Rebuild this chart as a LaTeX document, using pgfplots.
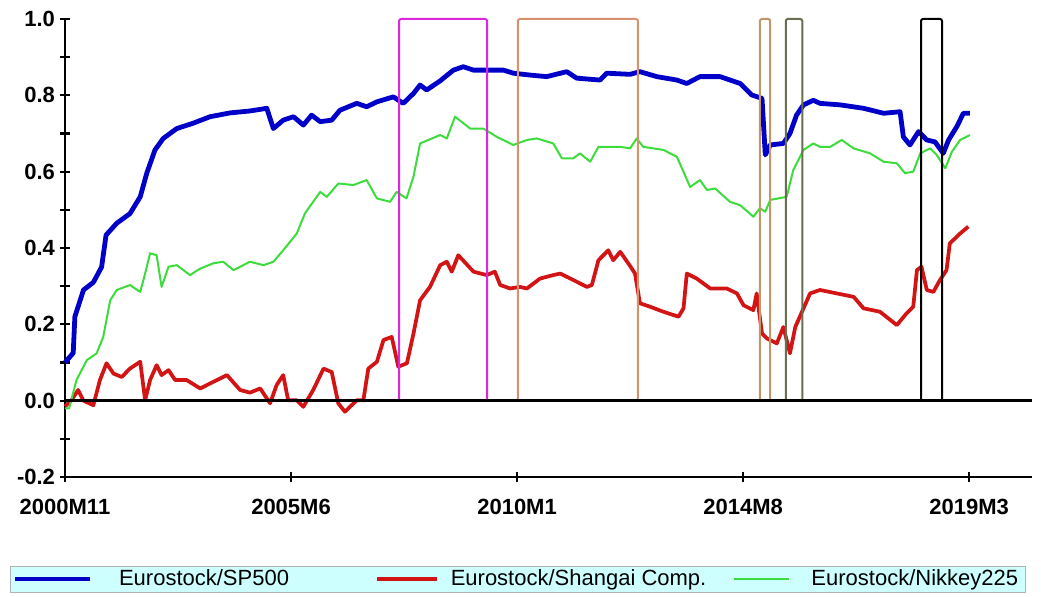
\documentclass[border=0pt]{standalone}
\usepackage{pgfplots}
\pgfplotsset{compat=1.18}
\usepackage{fontspec}
\setmainfont{Liberation Sans}

\definecolor{serblue}{RGB}{0,0,200}
\definecolor{serred}{RGB}{210,20,20}
\definecolor{sergreen}{RGB}{60,220,60}
\definecolor{regmag}{RGB}{220,40,220}
\definecolor{regtan}{RGB}{215,145,110}
\definecolor{regtanb}{RGB}{195,150,105}
\definecolor{regolive}{RGB}{105,110,80}
\definecolor{legcyan}{RGB}{205,255,255}

\pgfplotsset{leglen/.style={legend image code/.code={\draw[##1] (0pt,0pt) -- (#1,0pt);}}}

\begin{document}
\begin{tikzpicture}
\path[use as bounding box] (0,0) rectangle (780.75pt,447pt);
\begin{axis}[
    at={(48.75pt,89.25pt)}, anchor=south west,
    scale only axis,
    width=725.25pt, height=343.5pt,
    xmin=0, xmax=235.3,
    ymin=-0.2, ymax=1.0,
    clip=false,
    axis lines=left,
    axis line style={-, line width=2pt},
    tick align=center,
    major tick length=8pt,
    minor tick length=7pt,
    tick style={line width=1.6pt, black},
    xtick={0,55,110,165,220},
    xticklabels={2000M11,2005M6,2010M1,2014M8,2019M3},
    ytick={-0.2,0,0.2,0.4,0.6,0.8,1.0},
    minor ytick={-0.1,0.1,0.3,0.5,0.7,0.9},
    /pgf/number format/assume math mode=true,
    yticklabel style={/pgf/number format/.cd, fixed, fixed zerofill, precision=1},
    ticklabel style={font=\fontsize{16.5}{18}\selectfont\bfseries},
    xticklabel style={yshift=-9pt},
    legend columns=3,
    legend style={
        at={(-0.0569,-0.2227)}, anchor=west,
        fill=legcyan, draw=gray!60,
        font=\fontsize{16.5}{18}\selectfont,
        inner xsep=2pt, inner ysep=1pt,
        /tikz/every even column/.append style={column sep=0pt},
    },
    legend cell align=left,
]
\addplot[serblue, line width=3.6pt, line join=round, leglen=56pt] coordinates {
(0,0.10)(2,0.125)(2.4,0.22)(4.5,0.29)(6.9,0.31)(8.9,0.35)(10,0.434)(12.6,0.465)
(15.8,0.49)(18.3,0.534)(19.9,0.596)(21.9,0.657)(23.9,0.687)(27.2,0.713)(31.2,0.727)
(35.3,0.744)(40.2,0.754)(45,0.759)(49.1,0.766)(50.7,0.713)(53.1,0.735)(55.6,0.744)
(58,0.722)(60,0.748)(62.1,0.731)(64.9,0.735)(66.9,0.761)(71,0.779)(73.4,0.770)
(75.9,0.783)(79.9,0.796)(82.3,0.779)(84.8,0.805)(86.4,0.827)(88,0.814)(91.3,0.838)
(94.5,0.866)(96.9,0.875)(99.4,0.866)(106.7,0.866)(109.1,0.858)(113.2,0.853)
(117.2,0.849)(122.1,0.862)(124.5,0.845)(130.2,0.840)(131.8,0.858)(137.5,0.855)
(139.9,0.862)(144,0.849)(148.9,0.840)(151.3,0.831)(154.5,0.849)(159.4,0.849)
(164.3,0.831)(167.1,0.801)(169.6,0.792)(170.4,0.644)(171.6,0.670)(174.8,0.674)
(176.4,0.700)(178,0.748)(179.7,0.775)(182.1,0.787)(183.7,0.779)(188.6,0.775)
(194.3,0.766)(199.2,0.753)(203.2,0.757)(204,0.691)(205.6,0.670)(207.7,0.705)
(209.7,0.683)(211.7,0.678)(213.7,0.648)(215,0.683)(217,0.718)(218.6,0.753)(220.2,0.753)
};
\addlegendentry{\makebox[208pt][l]{\hspace{18pt}Eurostock/SP500}}
\addplot[serred, line width=2.8pt, line join=round, leglen=45pt] coordinates {
(0,-0.015)(1.5,0.0)(3.2,0.028)(4.5,0.0)(6.9,-0.012)(8.5,0.054)(10.1,0.098)(11.8,0.071)
(13.8,0.062)(15.8,0.084)(18.3,0.102)(19.5,0.001)(20.7,0.054)(22.3,0.093)(23.5,0.067)
(25.2,0.08)(26.8,0.054)(29.6,0.054)(32.9,0.032)(35.3,0.045)(39.4,0.067)(42.6,0.028)
(45,0.021)(47.5,0.032)(49.9,-0.007)(51.5,0.041)(53.1,0.067)(54.3,0.001)(56.4,0.001)
(58,-0.016)(60.4,0.028)(62.9,0.084)(64.9,0.075)(66.5,-0.007)(68.1,-0.029)(71,0.001)
(72.6,0.001)(73.8,0.084)(75.9,0.102)(77.5,0.159)(79.5,0.167)(81.1,0.089)(83.2,0.098)
(84.8,0.176)(86.4,0.263)(88.8,0.298)(91.3,0.355)(92.9,0.364)(94.1,0.338)(95.7,0.381)
(99.4,0.338)(102.6,0.329)(104.6,0.338)(105.9,0.303)(108.3,0.294)(110.7,0.298)
(112.4,0.294)(115.6,0.32)(118.8,0.329)(120.5,0.333)(123.7,0.316)(127,0.298)
(128.2,0.303)(129.8,0.368)(132.2,0.394)(133.4,0.368)(135.1,0.39)(137.5,0.353)
(138.7,0.333)(139.9,0.255)(142.4,0.246)(145.6,0.233)(149.3,0.22)(150.5,0.242)
(151.3,0.333)(153.7,0.32)(157,0.294)(161,0.294)(163.5,0.281)(165.1,0.25)(167.5,0.237)
(168.3,0.281)(169.6,0.176)(170.8,0.163)(173.2,0.15)(174.8,0.193)(176.4,0.124)
(177.7,0.193)(179.7,0.242)(181.3,0.281)(183.7,0.29)(187.8,0.281)(191.9,0.272)
(194.3,0.242)(198.3,0.233)(202.4,0.198)(204.8,0.229)(206.4,0.246)(207.3,0.342)
(208.4,0.351)(209.7,0.29)(211.3,0.285)(212.9,0.316)(214.5,0.342)(215.3,0.412)
(217.8,0.438)(219.8,0.456)
};
\addlegendentry{\makebox[217pt][l]{\hspace{7pt}Eurostock/Shangai Comp.}}
\addplot[sergreen, line width=1.5pt, line join=round, leglen=41pt] coordinates {
(0,-0.02)(1,-0.02)(2.8,0.054)(5.3,0.106)(7.7,0.124)(9.3,0.167)(11,0.263)(12.6,0.29)
(15.8,0.303)(18.3,0.285)(19.5,0.333)(20.7,0.386)(22.3,0.381)(23.5,0.298)(25.2,0.351)
(27.2,0.355)(30.4,0.329)(32.9,0.346)(36.1,0.36)(38.5,0.364)(41,0.342)(45,0.364)
(48.3,0.355)(50.7,0.364)(53.1,0.394)(56.4,0.438)(58.4,0.491)(62.1,0.547)(63.7,0.534)
(66.5,0.569)(70.2,0.565)(73.4,0.578)(75.9,0.53)(79.1,0.521)(80.7,0.547)(83.1,0.53)
(84.8,0.587)(86.4,0.674)(91.3,0.696)(92.9,0.687)(94.9,0.744)(98.6,0.713)(101.8,0.713)
(105.1,0.691)(109.1,0.670)(112.4,0.683)(114.8,0.687)(118.8,0.674)(120.9,0.635)
(123.7,0.635)(125.3,0.648)(127.8,0.626)(129.8,0.665)(135.1,0.665)(137.5,0.661)
(139.1,0.687)(140.7,0.665)(145.6,0.657)(148.9,0.639)(152.1,0.56)(154.5,0.578)
(156.2,0.552)(158.2,0.556)(161.8,0.521)(164.3,0.512)(167.5,0.482)(169.1,0.504)
(170.4,0.495)(171.6,0.526)(175.6,0.534)(177.2,0.604)(179.7,0.657)(182.1,0.674)
(183.7,0.665)(186.2,0.665)(189,0.683)(191.9,0.661)(195.9,0.648)(199.2,0.626)
(202.4,0.622)(204.4,0.596)(206.4,0.6)(208.1,0.648)(210.5,0.661)(212.1,0.644)
(214.2,0.609)(215.8,0.652)(217.8,0.683)(220.2,0.696)
};
\addlegendentry{\makebox[170pt][l]{\hspace{14pt}Eurostock/Nikkey225}}
% regime windows
\addplot[regmag, line width=1.5pt, rounded corners=1.5pt, forget plot] coordinates {(81.3,0)(81.3,1)(102.7,1)(102.7,0)};
\addplot[regtan, line width=1.5pt, rounded corners=1.5pt, forget plot] coordinates {(110.2,0)(110.2,1)(139.4,1)(139.4,0)};
\addplot[regtanb, line width=1.5pt, rounded corners=1.5pt, forget plot] coordinates {(169.1,0)(169.1,1)(171.6,1)(171.6,0)};
\addplot[regolive, line width=1.5pt, rounded corners=1.5pt, forget plot] coordinates {(175.4,0)(175.4,1)(179.4,1)(179.4,0)};
\addplot[black, line width=1.5pt, rounded corners=1.5pt, forget plot] coordinates {(208.3,0)(208.3,1)(213.4,1)(213.4,0)};
% zero line
\addplot[black, line width=2pt, forget plot] coordinates {(0,0)(235.3,0)};
\end{axis}
\end{tikzpicture}
\end{document}
